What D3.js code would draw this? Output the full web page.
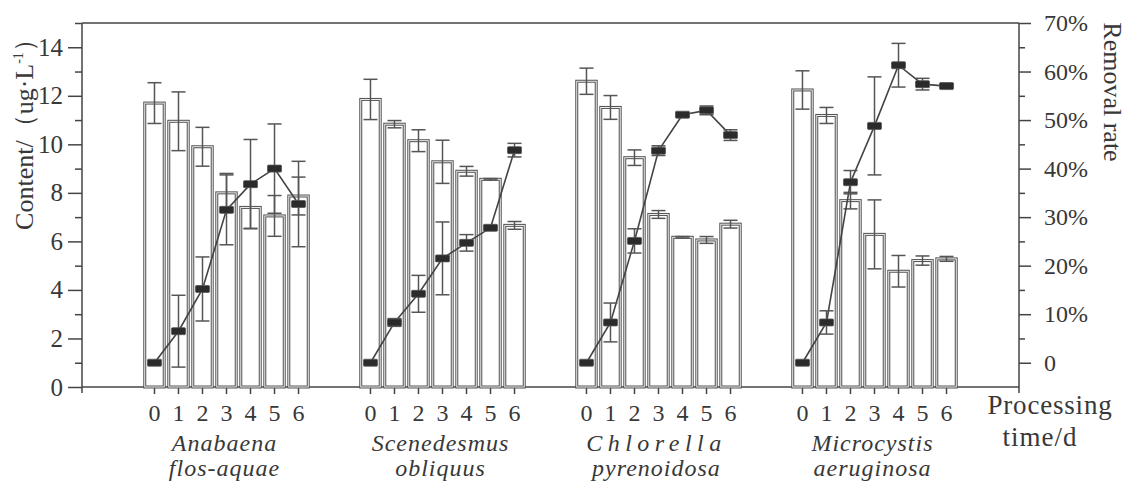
<!DOCTYPE html>
<html>
<head>
<meta charset="utf-8">
<script src="https://cdn.jsdelivr.net/npm/d3@7"></script>
<style>
  html, body { margin: 0; padding: 0; background: #fff; }
  svg { display: block; }
  text { font-family: "Liberation Serif", "Times New Roman", serif; fill: #383838; }
</style>
</head>
<body>
<svg id="chart" width="1129" height="482"></svg>
<script>
// Species (groups) and processing days (categories within a group)
const species = ["Anabaena flos-aquae", "Scenedesmus obliquus", "Chlorella pyrenoidosa", "Microcystis aeruginosa"];
const speciesLine1 = ["Anabaena", "Scenedesmus", "Chlorella", "Microcystis"];
const speciesLine2 = ["flos-aquae", "obliquus", "pyrenoidosa", "aeruginosa"];
const days = ["0", "1", "2", "3", "4", "5", "6"];

// Content (ug·L-1), bars, one row per species
const contentMean = [
  [11.7, 10.95, 9.9, 8.0, 7.4, 7.05, 7.87],
  [11.85, 10.83, 10.15, 9.28, 8.89, 8.56, 6.66],
  [12.6, 11.52, 9.45, 7.11, 6.17, 6.06, 6.71],
  [12.24, 11.19, 7.68, 6.29, 4.77, 5.21, 5.28]
];
const contentSD = [
  [0.84, 1.21, 0.8, 0.8, 0.86, 0.84, 0.78],
  [0.83, 0.15, 0.45, 0.89, 0.2, 0.03, 0.16],
  [0.54, 0.49, 0.32, 0.16, 0.03, 0.14, 0.16],
  [0.79, 0.33, 0.34, 1.42, 0.65, 0.19, 0.1]
];

// Removal rate (%), line, one row per species
const removalMean = [
  [0, 6.5, 15.2, 31.5, 36.8, 40.0, 32.7],
  [0, 8.3, 14.2, 21.5, 24.7, 27.8, 43.8],
  [0, 8.3, 25.1, 43.7, 51.1, 52.0, 46.9],
  [0, 8.3, 37.2, 48.8, 61.3, 57.4, 57.0]
];
const removalSD = [
  [0, 7.4, 6.6, 7.2, 9.2, 9.2, 8.8],
  [0, 0.8, 3.8, 7.5, 1.7, 0.3, 1.4],
  [0, 4.0, 2.5, 1.0, 0.3, 0.9, 1.1],
  [0, 2.4, 2.4, 10.1, 4.5, 1.2, 0.3]
];

// Axis ticks
const contentTicks = [0, 2, 4, 6, 8, 10, 12, 14];
const contentMinorTicks = [1, 3, 5, 7, 9, 11, 13, 15];
const removalTicks = [0, 10, 20, 30, 40, 50, 60, 70];
const removalMinorTicks = [5, 15, 25, 35, 45, 55, 65];

const svg = d3.select("#chart");
const ink = "#444";
const plotLeft = 82, plotRight = 1019, plotTop = 23, plotBottom = 387;

const x0 = d3.scaleBand().domain(species).range([plotLeft, plotRight])
  .paddingInner(0.222).paddingOuter(0.28);
const x1 = d3.scaleBand().domain(days).range([0, x0.bandwidth()])
  .paddingInner(0.19).paddingOuter(0.095);
const yL = d3.scaleLinear().domain([0, 15]).range([plotBottom, plotTop]);
const yR = d3.scaleLinear().domain([-5, 70]).range([plotBottom, plotTop]);

const cx = (si, di) => x0(species[si]) + x1(days[di]) + x1.bandwidth() / 2;

// Frame lines
svg.append("line").attr("x1", plotLeft).attr("x2", plotRight).attr("y1", plotTop).attr("y2", plotTop)
  .attr("stroke", ink).attr("stroke-width", 1.5);
svg.append("line").attr("x1", plotLeft).attr("x2", plotRight).attr("y1", plotBottom).attr("y2", plotBottom)
  .attr("stroke", ink).attr("stroke-width", 1.5);
svg.append("line").attr("x1", plotLeft).attr("x2", plotLeft).attr("y1", plotTop).attr("y2", plotBottom + 6)
  .attr("stroke", ink).attr("stroke-width", 1.5);
svg.append("line").attr("x1", plotRight).attr("x2", plotRight).attr("y1", plotTop).attr("y2", plotBottom + 6)
  .attr("stroke", ink).attr("stroke-width", 1.5);

function styleAxis(size) {
  return g => {
    g.select(".domain").remove();
    g.selectAll(".tick line").attr("stroke", ink).attr("stroke-width", 1.5);
    g.selectAll(".tick text").attr("fill", "#383838")
      .style("font-family", "'Liberation Serif', serif").style("font-size", size + "px");
  };
}

// Left axis
svg.append("g").attr("transform", `translate(${plotLeft},0)`)
  .call(d3.axisLeft(yL).tickValues(contentTicks).tickSize(14).tickPadding(5))
  .call(styleAxis(25));
svg.append("g").attr("transform", `translate(${plotLeft},0)`)
  .call(d3.axisLeft(yL).tickValues(contentMinorTicks).tickSize(7).tickFormat(""))
  .call(styleAxis(25));

// Right axis
svg.append("g").attr("transform", `translate(${plotRight},0)`)
  .call(d3.axisRight(yR).tickValues(removalTicks).tickSize(12).tickPadding(13)
    .tickFormat(d => d === 0 ? "0" : d + "%"))
  .call(styleAxis(24));
svg.append("g").attr("transform", `translate(${plotRight},0)`)
  .call(d3.axisRight(yR).tickValues(removalMinorTicks).tickSize(6).tickFormat(""))
  .call(styleAxis(24));

// Day ticks below each group
species.forEach((s, si) => {
  svg.append("g").attr("transform", `translate(${x0(s)},${plotBottom})`)
    .call(d3.axisBottom(x1).tickSize(7).tickPadding(10))
    .call(styleAxis(24));
});

// Bars: double outline
const barG = svg.append("g");
species.forEach((s, si) => {
  days.forEach((d, di) => {
    const v = contentMean[si][di];
    const bx = x0(s) + x1(d), bw = x1.bandwidth();
    barG.append("rect").attr("x", bx).attr("y", yL(v)).attr("width", bw).attr("height", yL(0) - yL(v))
      .attr("fill", "#fff").attr("stroke", "#555").attr("stroke-width", 3);
    barG.append("rect").attr("x", bx).attr("y", yL(v)).attr("width", bw).attr("height", yL(0) - yL(v))
      .attr("fill", "none").attr("stroke", "#fff").attr("stroke-width", 0.9);
  });
});

// Error bar helper
function errorBar(g, x, yHi, yLo) {
  g.append("line").attr("x1", x).attr("x2", x).attr("y1", yHi).attr("y2", yLo)
    .attr("stroke", "#555").attr("stroke-width", 1.5);
  [yHi, yLo].forEach(yy => g.append("line").attr("x1", x - 7).attr("x2", x + 7)
    .attr("y1", yy).attr("y2", yy).attr("stroke", "#555").attr("stroke-width", 1.5));
}

const errG = svg.append("g");
species.forEach((s, si) => {
  days.forEach((d, di) => {
    const m = contentMean[si][di], e = contentSD[si][di];
    errorBar(errG, cx(si, di), yL(m + e), yL(m - e));
  });
});

// Removal rate lines with markers
const lineG = svg.append("g");
const line = d3.line().x(p => p[0]).y(p => p[1]);
species.forEach((s, si) => {
  const pts = days.map((d, di) => [cx(si, di), yR(removalMean[si][di])]);
  lineG.append("path").attr("d", line(pts)).attr("fill", "none")
    .attr("stroke", "#444").attr("stroke-width", 1.6);
  days.forEach((d, di) => {
    const m = removalMean[si][di], e = removalSD[si][di];
    if (e > 0) errorBar(lineG, cx(si, di), yR(m + e), yR(m - e));
  });
  days.forEach((d, di) => {
    lineG.append("rect").attr("x", cx(si, di) - 7).attr("y", yR(removalMean[si][di]) - 3.5)
      .attr("width", 14).attr("height", 7).attr("rx", 1)
      .attr("fill", "#2b2b2b").attr("stroke", "#555").attr("stroke-width", 0.8);
  });
});

// Species names
species.forEach((s, si) => {
  const gx = x0(s) + x0.bandwidth() / 2;
  const spacing = si === 2 ? "5.5px" : "1px";
  svg.append("text").attr("x", gx - 2).attr("y", 451).attr("text-anchor", "middle")
    .style("font-size", "24px").style("font-style", "italic").style("letter-spacing", spacing)
    .text(speciesLine1[si]);
  svg.append("text").attr("x", gx - 2).attr("y", 476).attr("text-anchor", "middle")
    .style("font-size", "24px").style("font-style", "italic").style("letter-spacing", "1px")
    .text(speciesLine2[si]);
});

// Axis titles
svg.append("text").attr("x", 1050).attr("y", 414).attr("text-anchor", "middle")
  .style("font-size", "27px").style("letter-spacing", "0.8px").text("Processing");
svg.append("text").attr("x", 1040).attr("y", 446).attr("text-anchor", "middle")
  .style("font-size", "27px").style("letter-spacing", "1px").text("time/d");

const yTitle = svg.append("text").attr("transform", "translate(33,128) rotate(-90)")
  .attr("text-anchor", "middle").style("font-size", "26px");
yTitle.append("tspan").text("Content/（ug·L");
yTitle.append("tspan").attr("dy", -10).style("font-size", "14px").text("-1");
yTitle.append("tspan").attr("dy", 10).text("）");

svg.append("text").attr("transform", "translate(1104,92) rotate(90)")
  .attr("text-anchor", "middle").style("font-size", "26px").text("Removal rate");
</script>
</body>
</html>
